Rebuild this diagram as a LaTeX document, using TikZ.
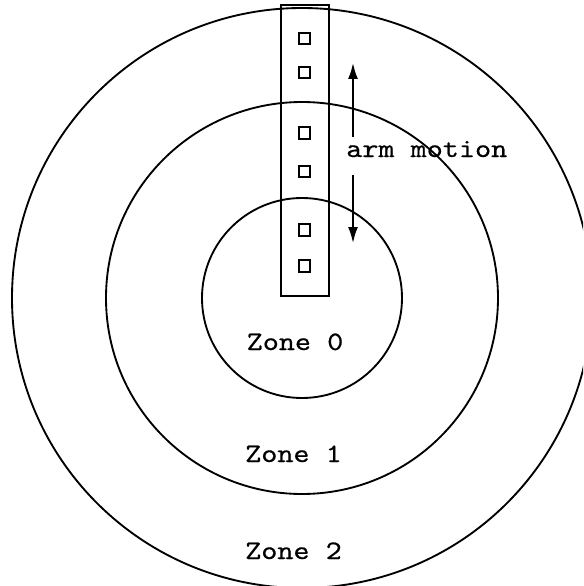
\documentclass[tikz,border=0pt]{standalone}
\usepackage{fontspec}
\usetikzlibrary{arrows.meta,positioning}
\newfontfamily\zonefont[FakeStretch=1.15,FakeBold=0.5]{lmmono10-regular.otf}

\begin{document}
\begin{tikzpicture}[x=0.75pt,y=0.75pt,
  ring/.style={line width=1.4pt},
  head/.style={draw,line width=1.5pt,minimum size=8.5pt,inner sep=0pt},
  lbl/.style={font=\zonefont\fontsize{20}{24}\selectfont,inner sep=0pt},
  motion/.style={line width=1.4pt,-{Latex[length=12pt,width=7.5pt]}}]
  \clip (-302,-288) rectangle (281,298);

  % Zones
  \draw[ring] (0,0) circle (290);
  \draw[ring] (0,0) circle (196);
  \draw[ring] (0,0) circle (100);

  % Arm with heads
  \node[draw,line width=1.4pt,minimum width=36pt,minimum height=218pt,anchor=south] (arm) at (3,1) {};
  \foreach \y [count=\i] in {259.5,225.5,165,126.5,68,32}
    \node[head] (head\i) at (2.5,\y) {};

  % Arm motion
  \node[lbl,anchor=base west] (armmotion) at (44,141) {arm motion};
  \coordinate (uptail) at (51,161);
  \coordinate (uptip) at (51,235);
  \coordinate (downtail) at (51,123);
  \coordinate (downtip) at (51,55);
  \draw[motion] (uptail) -- (uptip);
  \draw[motion] (downtail) -- (downtip);

  % Zone labels
  \node[lbl,anchor=base] (zone0) at (-7,-52) {Zone 0};
  \node[lbl,anchor=base] (zone1) at (-8.5,-164) {Zone 1};
  \node[lbl,anchor=base] (zone2) at (-8.5,-261) {Zone 2};
\end{tikzpicture}
\end{document}
